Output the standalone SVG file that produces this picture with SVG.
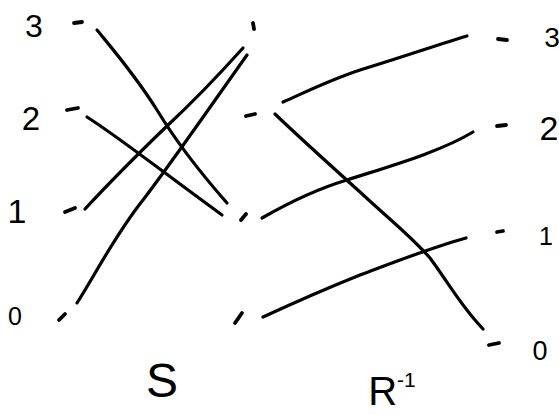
<svg xmlns="http://www.w3.org/2000/svg" width="559" height="415" viewBox="0 0 559 415">
<style>
.ln{fill:none;stroke:#000;stroke-width:3.2;stroke-linecap:round;stroke-linejoin:round}
.dot{fill:none;stroke:#000;stroke-width:3.8;stroke-linecap:round}
.lb{font-family:"Liberation Sans",Arial,sans-serif;fill:#000;text-anchor:middle}
</style>
<rect width="559" height="415" fill="#fff"/>
<g id="nodes">
<g id="L3"><path class="dot" d="M74,23 L82,22"/><text class="lb" x="34" y="37" font-size="32">3</text></g>
<g id="L2"><path class="dot" d="M67,110 L78,108"/><text class="lb" x="31" y="130" font-size="33">2</text></g>
<g id="L1"><path class="dot" d="M65,212 L75,208"/><text class="lb" x="17" y="223" font-size="34">1</text></g>
<g id="L0"><path class="dot" d="M59,320 L65,314"/><text class="lb" x="15" y="325" font-size="25">0</text></g>
<g id="M3"><path class="dot" d="M253,23 L254,29"/></g>
<g id="M2"><path class="dot" d="M246,116 L255,114"/></g>
<g id="M1"><path class="dot" d="M241,220 L246,214"/></g>
<g id="M0"><path class="dot" d="M235,323 L242,313"/></g>
<g id="R3"><path class="dot" d="M498,39 L507,40"/><text class="lb" x="552" y="47" font-size="28">3</text></g>
<g id="R2"><path class="dot" d="M497,126 L506,125"/><text class="lb" x="549" y="140" font-size="34">2</text></g>
<g id="R1"><path class="dot" d="M497,232 L503,231"/><text class="lb" x="546" y="245" font-size="25">1</text></g>
<g id="R0"><path class="dot" d="M489,345 L499,343"/><text class="lb" x="540" y="360" font-size="27">0</text></g>
<g id="labelS"><text class="lb" x="162" y="397" font-size="48">S</text></g>
<g id="labelR"><text class="lb" x="392" y="405" font-size="40">R<tspan dy="-18" font-size="21">-1</tspan></text></g>
</g>
<g id="connectors">
<path class="ln" d="M97,30 C115,52 135,75 157,110 C180,148 205,178 227,203"/>
<path class="ln" d="M87,117 C120,138 160,170 222,215"/>
<path class="ln" d="M85,209 C110,182 140,152 167,126 C195,100 225,68 243,48"/>
<path class="ln" d="M77,303 C95,275 115,235 143,200 C170,165 215,100 247,55"/>
<path class="ln" d="M283,102 C310,90 330,80 360,70 C400,58 440,44 467,36"/>
<path class="ln" d="M275,114 C300,138 330,165 360,192 C390,220 410,235 430,258 C450,285 460,305 483,329"/>
<path class="ln" d="M262,218 C290,202 320,188 347,180 C390,166 440,152 473,132"/>
<path class="ln" d="M263,317 C300,300 330,287 360,275 C400,260 430,248 466,238"/>
</g>
</svg>
